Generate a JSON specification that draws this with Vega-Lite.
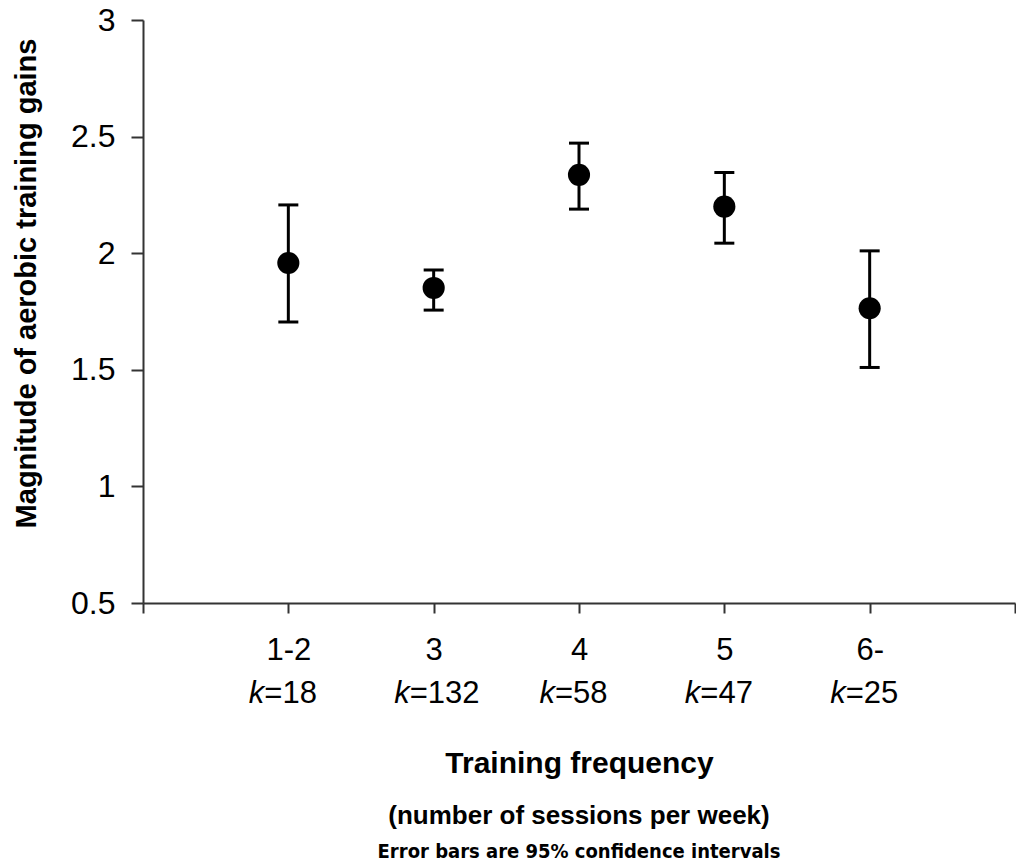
{
  "$schema": "https://vega.github.io/schema/vega-lite/v6.json",
  "width": 872,
  "height": 583,
  "autosize": {"type": "none"},
  "padding": {"left": 143, "top": 20, "right": 1, "bottom": 264},
  "background": "white",
  "config": {"view": {"stroke": null}, "font": "Liberation Sans"},
  "title": {
    "text": "(number of sessions per week)",
    "subtitle": "Error bars are 95% confidence intervals",
    "orient": "bottom",
    "anchor": "middle",
    "font": "Liberation Sans",
    "fontSize": 26,
    "fontWeight": "bold",
    "color": "black",
    "offset": 25,
    "subtitleFont": "Liberation Sans Narrow, DejaVu Sans Condensed, sans-serif",
    "subtitleFontSize": 20,
    "subtitleFontWeight": "bold",
    "subtitleColor": "black",
    "subtitlePadding": 13
  },
  "data": {
    "values": [
      {"freq": 1, "group": "1-2", "k": 18, "klabel": "=18", "mean": 1.958, "lo": 1.705, "hi": 2.207},
      {"freq": 2, "group": "3", "k": 132, "klabel": "=132", "mean": 1.851, "lo": 1.756, "hi": 1.928},
      {"freq": 3, "group": "4", "k": 58, "klabel": "=58", "mean": 2.336, "lo": 2.189, "hi": 2.472},
      {"freq": 4, "group": "5", "k": 47, "klabel": "=47", "mean": 2.200, "lo": 2.043, "hi": 2.346},
      {"freq": 5, "group": "6-", "k": 25, "klabel": "=25", "mean": 1.764, "lo": 1.510, "hi": 2.010}
    ]
  },
  "encoding": {
    "x": {
      "field": "freq",
      "type": "quantitative",
      "scale": {"domain": [0, 6], "nice": false, "zero": false},
      "axis": {
        "values": [0, 1, 2, 3, 4, 5, 6],
        "labelExpr": "['', '1-2', '3', '4', '5', '6-', ''][datum.value]",
        "grid": false,
        "domainColor": "#333333",
        "domainWidth": 2,
        "tickColor": "#333333",
        "tickWidth": 2,
        "tickSize": 10,
        "labelFont": "Liberation Sans",
        "labelFontSize": 31,
        "labelColor": "black",
        "labelPadding": 22,
        "labelFlush": false,
        "labelOverlap": false,
        "title": "Training frequency",
        "titleFont": "Liberation Sans",
        "titleFontSize": 30,
        "titleFontWeight": "bold",
        "titleColor": "black",
        "titleX": 436,
        "titleY": 169,
        "titleBaseline": "alphabetic",
        "titleAlign": "center"
      }
    }
  },
  "layer": [
    {
      "mark": {"type": "rule", "strokeWidth": 3, "color": "black"},
      "encoding": {
        "y": {
          "field": "lo",
          "type": "quantitative",
          "scale": {"domain": [0.5, 3], "nice": false, "zero": false},
          "axis": {
            "values": [0.5, 1, 1.5, 2, 2.5, 3],
            "format": "~g",
            "grid": false,
            "domainColor": "#333333",
            "domainWidth": 2,
            "tickColor": "#333333",
            "tickWidth": 2,
            "tickSize": 12,
            "labelFont": "Liberation Sans",
            "labelFontSize": 32,
            "labelColor": "black",
            "labelPadding": 16,
            "labelFlush": false,
            "labelOverlap": false,
            "title": "Magnitude of aerobic training gains",
            "titleFont": "Liberation Sans",
            "titleFontSize": 29,
            "titleFontWeight": "bold",
            "titleColor": "black",
            "titleAngle": -90,
            "titleX": -108,
            "titleY": 263,
            "titleBaseline": "alphabetic",
            "titleAlign": "center"
          }
        },
        "y2": {"field": "hi"}
      }
    },
    {
      "mark": {"type": "tick", "orient": "horizontal", "size": 20, "thickness": 3, "color": "black", "opacity": 1},
      "encoding": {"y": {"field": "lo", "type": "quantitative"}}
    },
    {
      "mark": {"type": "tick", "orient": "horizontal", "size": 20, "thickness": 3, "color": "black", "opacity": 1},
      "encoding": {"y": {"field": "hi", "type": "quantitative"}}
    },
    {
      "mark": {"type": "circle", "size": 490, "color": "black", "opacity": 1},
      "encoding": {"y": {"field": "mean", "type": "quantitative"}}
    },
    {
      "mark": {"type": "text", "text": "k", "fontStyle": "italic", "align": "right", "baseline": "middle", "dx": -24, "fontSize": 31, "font": "Liberation Sans", "color": "black"},
      "encoding": {"y": {"datum": 0.111}}
    },
    {
      "mark": {"type": "text", "align": "left", "baseline": "middle", "dx": -24, "fontSize": 31, "font": "Liberation Sans", "color": "black"},
      "encoding": {"y": {"datum": 0.111}, "text": {"field": "klabel"}}
    }
  ]
}
